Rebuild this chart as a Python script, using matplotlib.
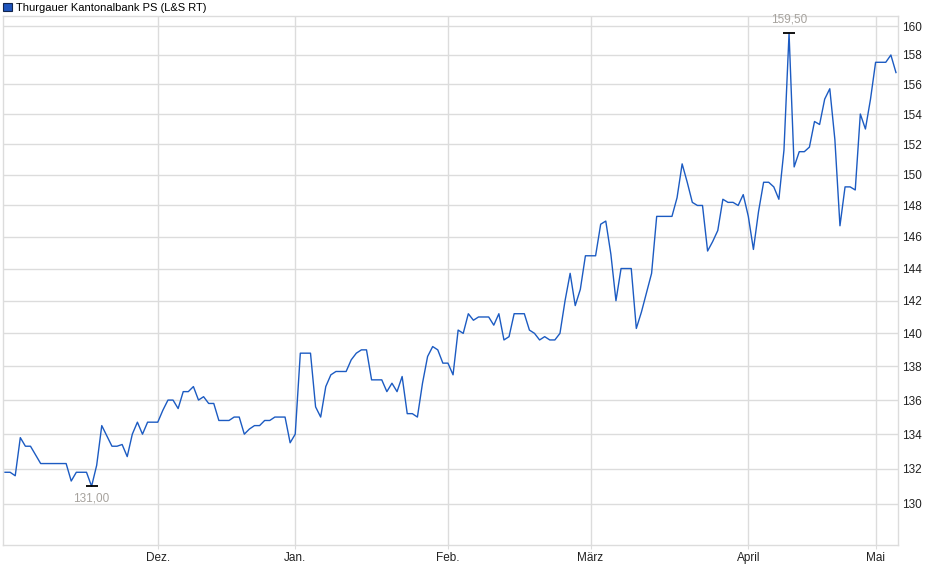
import matplotlib

matplotlib.use("Agg")

import matplotlib.pyplot as plt
import matplotlib.ticker as ticker
from matplotlib.patches import Patch
import numpy as np

plt.rcParams['font.family'] = ['Liberation Sans', 'DejaVu Sans']

# --- Data (daily L&S quotes, Nov -> May) ---
series_name = "Thurgauer Kantonalbank PS (L&S RT)"
prices = [
    131.8, 131.8, 131.6, 133.8, 133.3, 133.3, 132.8, 132.3, 132.3, 132.3,
    132.3, 132.3, 132.3, 131.3, 131.8, 131.8, 131.8, 131.0, 132.2, 134.5,
    133.9, 133.3, 133.3, 133.4, 132.7, 134.0, 134.7, 134.0, 134.7, 134.7,
    134.7, 135.4, 136.0, 136.0, 135.5, 136.5, 136.5, 136.8, 136.0, 136.2,
    135.8, 135.8, 134.8, 134.8, 134.8, 135.0, 135.0, 134.0, 134.3, 134.5,
    134.5, 134.8, 134.8, 135.0, 135.0, 135.0, 133.5, 134.0, 138.8, 138.8,
    138.8, 135.6, 135.0, 136.8, 137.5, 137.7, 137.7, 137.7, 138.4, 138.8,
    139.0, 139.0, 137.2, 137.2, 137.2, 136.5, 137.0, 136.5, 137.4, 135.2,
    135.2, 135.0, 137.0, 138.6, 139.2, 139.0, 138.2, 138.2, 137.5, 140.2,
    140.0, 141.2, 140.8, 141.0, 141.0, 141.0, 140.5, 141.2, 139.6, 139.8,
    141.2, 141.2, 141.2, 140.2, 140.0, 139.6, 139.8, 139.6, 139.6, 140.0,
    142.0, 143.7, 141.7, 142.7, 144.8, 144.8, 144.8, 146.8, 147.0, 144.9,
    142.0, 144.0, 144.0, 144.0, 140.3, 141.3, 142.5, 143.7, 147.3, 147.3,
    147.3, 147.3, 148.5, 150.7, 149.5, 148.2, 148.0, 148.0, 145.1, 145.7,
    146.4, 148.4, 148.2, 148.2, 148.0, 148.7, 147.3, 145.2, 147.6, 149.5,
    149.5, 149.2, 148.4, 151.6, 159.5, 150.5, 151.5, 151.5, 151.8, 153.5,
    153.3, 155.0, 155.7, 152.3, 146.7, 149.2, 149.2, 149.0, 154.0, 153.0,
    155.0, 157.5, 157.5, 157.5, 158.0, 156.8,
]
month_labels = ["Dez.", "Jan.", "Feb.", "März", "April", "Mai"]
month_start_idx = [30, 57, 87, 115, 146, 171]
y_ticks = list(range(130, 161, 2))

LINE_COLOR = '#1c5bc2'
GRID_COLOR = '#dcdcdc'
ANNOT_COLOR = '#a6a29d'

# --- Figure ---
fig = plt.figure(figsize=(9.4, 5.79), dpi=100)
ax = fig.add_axes([3 / 940, 1 - 545 / 579, 895 / 940, 529 / 579])

x = np.arange(len(prices))
y = np.array(prices)
ax.plot(x, y, color=LINE_COLOR, linewidth=1.0, zorder=3)

ax.set_yscale('log')
ax.set_ylim(127.7, 160.7)
ax.set_xlim(-0.4, 175.4)

ax.yaxis.set_major_locator(ticker.FixedLocator(y_ticks))
ax.yaxis.set_major_formatter(ticker.FixedFormatter([str(t) for t in y_ticks]))
ax.yaxis.set_minor_locator(ticker.NullLocator())
ax.yaxis.tick_right()
ax.set_xticks(month_start_idx)
ax.set_xticklabels(month_labels)

ax.grid(True, color=GRID_COLOR, linewidth=1.0)
ax.set_axisbelow(True)
for sp in ax.spines.values():
    sp.set_color(GRID_COLOR)
    sp.set_linewidth(1.0)
ax.tick_params(axis='y', length=0, pad=3, labelsize=8.5, colors='#222222')
ax.tick_params(axis='x', length=3, color=GRID_COLOR, pad=2, labelsize=8.5, labelcolor='#222222')

# --- High / low markers ---
i_max = int(np.argmax(y))
i_min = int(np.argmin(y))
for idx, dy, va in [(i_max, 8, 'bottom'), (i_min, -6, 'top')]:
    ax.plot(idx, y[idx], marker='_', markersize=9, markeredgewidth=1.3,
            color='black', zorder=4)
    ax.annotate(f"{y[idx]:.2f}".replace('.', ','), (idx, y[idx]),
                xytext=(0, dy), textcoords='offset pixels',
                ha='center', va=va, fontsize=8.5, color=ANNOT_COLOR)

# --- Legend ---
handle = Patch(facecolor='#1f55bd', edgecolor='#13254d', linewidth=0.8, label=series_name)
fig.legend(handles=[handle], loc='upper left', bbox_to_anchor=(-0.005, 1.009),
           frameon=False, fontsize=8.0, handlelength=0.8, handleheight=0.8,
           handletextpad=0.35, borderpad=0.2)

fig.savefig('out.png', dpi=100)
